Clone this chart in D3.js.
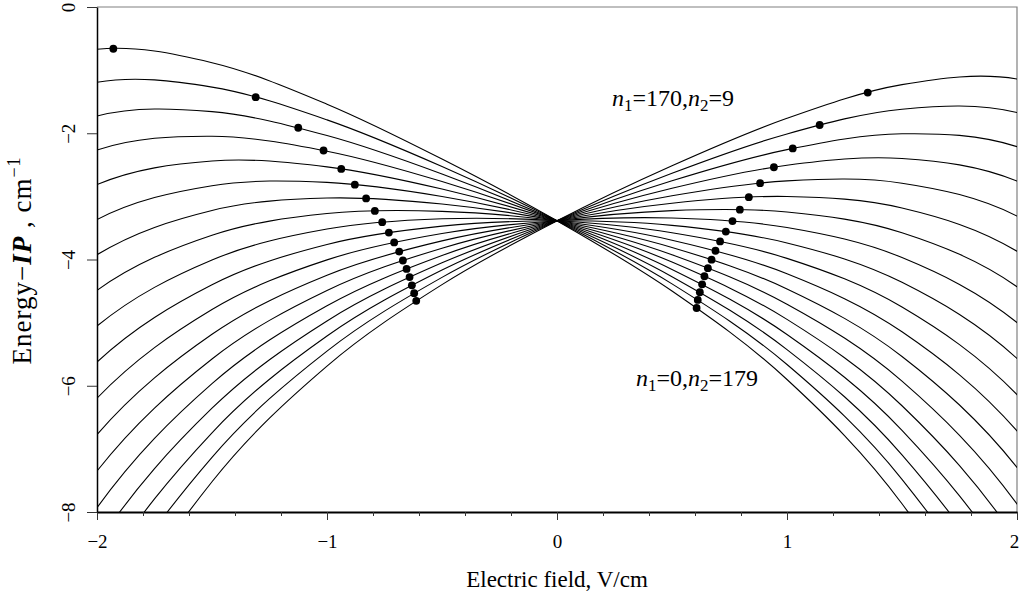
<!DOCTYPE html>
<html>
<head>
<meta charset="utf-8">
<script src="https://cdn.jsdelivr.net/npm/d3@7"></script>
<style>
html,body{margin:0;padding:0;background:#fff;}
svg{display:block;font-family:"Liberation Serif","Times New Roman",serif;}
</style>
</head>
<body>
<svg id="chart" width="1020" height="599"></svg>
<script>
// ---- data ----
const fieldGrid = [-2.5, -2, -1.5, -1, -0.5, 0, 0.5, 1, 1.5, 2, 2.5];
const n1Values = [0, 10, 20, 30, 40, 50, 60, 70, 80, 90, 100, 110, 120, 130, 140, 150, 160, 170];
const levelEnergies = [
  [-1.259, -0.669, -0.882, -1.539, -2.408, -3.387, -4.500, -5.901, -7.869, -10.813, -15.269],
  [-1.902, -1.193, -1.269, -1.788, -2.527, -3.387, -4.386, -5.664, -7.482, -10.219, -14.377],
  [-2.569, -1.726, -1.658, -2.036, -2.646, -3.387, -4.272, -5.427, -7.094, -9.629, -13.500],
  [-3.260, -2.266, -2.048, -2.284, -2.765, -3.387, -4.157, -5.188, -6.706, -9.041, -12.635],
  [-3.970, -2.813, -2.439, -2.532, -2.884, -3.387, -4.041, -4.949, -6.317, -8.456, -11.782],
  [-4.699, -3.367, -2.831, -2.779, -3.002, -3.387, -3.926, -4.708, -5.927, -7.873, -10.941],
  [-5.444, -3.925, -3.223, -3.026, -3.120, -3.387, -3.810, -4.467, -5.536, -7.293, -10.111],
  [-6.204, -4.488, -3.616, -3.272, -3.237, -3.387, -3.694, -4.225, -5.145, -6.715, -9.291],
  [-6.978, -5.054, -4.008, -3.518, -3.355, -3.387, -3.577, -3.982, -4.754, -6.140, -8.483],
  [-7.765, -5.624, -4.401, -3.762, -3.472, -3.387, -3.460, -3.738, -4.362, -5.567, -7.685],
  [-8.563, -6.197, -4.793, -4.006, -3.589, -3.387, -3.343, -3.493, -3.969, -4.998, -6.900],
  [-9.373, -6.773, -5.185, -4.249, -3.705, -3.387, -3.226, -3.248, -3.576, -4.431, -6.128],
  [-10.193, -7.351, -5.576, -4.491, -3.821, -3.387, -3.108, -3.002, -3.184, -3.869, -5.369],
  [-11.025, -7.932, -5.966, -4.733, -3.937, -3.387, -2.990, -2.755, -2.791, -3.311, -4.625],
  [-11.867, -8.514, -6.356, -4.973, -4.053, -3.387, -2.872, -2.507, -2.400, -2.758, -3.898],
  [-12.721, -9.100, -6.745, -5.212, -4.168, -3.387, -2.753, -2.260, -2.009, -2.212, -3.190],
  [-13.587, -9.688, -7.133, -5.451, -4.283, -3.387, -2.634, -2.011, -1.619, -1.672, -2.502],
  [-14.466, -10.278, -7.521, -5.688, -4.398, -3.387, -2.515, -1.763, -1.230, -1.140, -1.836]
];
const leftDotField  = [-1.929, -1.310, -1.125, -1.015, -0.938, -0.879, -0.830, -0.792, -0.760, -0.731, -0.708, -0.686, -0.670, -0.654, -0.641, -0.631, -0.621, -0.612];
const leftDotEnergy = [-0.661, -1.429, -1.913, -2.273, -2.565, -2.814, -3.033, -3.230, -3.409, -3.574, -3.729, -3.874, -4.016, -4.149, -4.279, -4.409, -4.533, -4.655];
const rightDotField  = [0.607, 0.612, 0.621, 0.631, 0.641, 0.656, 0.672, 0.689, 0.709, 0.734, 0.763, 0.795, 0.834, 0.883, 0.943, 1.025, 1.142, 1.351];
const rightDotEnergy = [-4.768, -4.641, -4.519, -4.394, -4.265, -4.137, -4.002, -3.861, -3.713, -3.558, -3.392, -3.211, -3.013, -2.791, -2.539, -2.240, -1.869, -1.355];
const xTickValues = [-2, -1, 0, 1, 2];
const xMinorTickValues = [-1.8, -1.6, -1.4, -1.2, -0.8, -0.6, -0.4, -0.2, 0.2, 0.4, 0.6, 0.8, 1.2, 1.4, 1.6, 1.8];
const yTickValues = [0, -2, -4, -6, -8];

// ---- layout ----
const plot = {left: 97, right: 1017, top: 7, bottom: 512};
const x = d3.scaleLinear().domain([-2, 2]).range([plot.left, plot.right]);
const y = d3.scaleLinear().domain([-8, 0]).range([plot.bottom, plot.top]);
const svg = d3.select("#chart");

svg.append("defs").append("clipPath").attr("id", "clip")
  .append("rect")
  .attr("x", plot.left).attr("y", plot.top)
  .attr("width", plot.right - plot.left).attr("height", plot.bottom - plot.top);

// frame (top & right)
svg.append("path")
  .attr("d", `M${plot.left},${plot.top}H${plot.right}V${plot.bottom}`)
  .attr("fill", "none").attr("stroke", "#808080").attr("stroke-width", 1.2);

// curves
const line = d3.line()
  .x((d, i) => x(fieldGrid[i]))
  .y(d => y(d))
  .curve(d3.curveCardinal.tension(0));

const gPlot = svg.append("g").attr("clip-path", "url(#clip)");
gPlot.selectAll("path.level")
  .data(levelEnergies)
  .join("path")
  .attr("class", "level")
  .attr("d", line)
  .attr("fill", "none")
  .attr("stroke", "#000")
  .attr("stroke-width", 1.1);

// dots
const dots = leftDotField.map((f, i) => ({f, e: leftDotEnergy[i]}))
  .concat(rightDotField.map((f, i) => ({f, e: rightDotEnergy[i]})));
gPlot.selectAll("circle.dot")
  .data(dots)
  .join("circle")
  .attr("class", "dot")
  .attr("cx", d => x(d.f))
  .attr("cy", d => y(d.e))
  .attr("r", 3.9)
  .attr("fill", "#000");

// x axis
const fmt = d => (d < 0 ? "\u2212" + (-d) : String(d));
const gx = svg.append("g").attr("transform", `translate(0,${plot.bottom})`)
  .call(d3.axisBottom(x).tickValues(xTickValues).tickSize(8).tickSizeOuter(0).tickFormat(fmt));
gx.select(".domain").attr("stroke", "#000").attr("stroke-width", 2.2);
gx.selectAll(".tick line").attr("stroke", "#333").attr("stroke-width", 1);
gx.selectAll(".tick text")
  .attr("y", 35.5).attr("dy", 0)
  .attr("x", d => (d === 2 ? -3 : 0))
  .attr("font-size", 19).attr("font-family", "Liberation Serif").attr("fill", "#000");

const gxm = svg.append("g").attr("transform", `translate(0,${plot.bottom})`)
  .call(d3.axisBottom(x).tickValues(xMinorTickValues).tickSize(4).tickSizeOuter(0).tickFormat(""));
gxm.select(".domain").remove();
gxm.selectAll(".tick line").attr("stroke", "#333").attr("stroke-width", 1);

// y axis
const gy = svg.append("g").attr("transform", `translate(${plot.left},0)`)
  .call(d3.axisLeft(y).tickValues(yTickValues).tickSize(10).tickSizeOuter(0).tickFormat(fmt));
gy.select(".domain").attr("stroke", "#000").attr("stroke-width", 1.5);
gy.selectAll(".tick line").attr("stroke", "#333").attr("stroke-width", 1);
gy.selectAll(".tick text")
  .attr("x", 0).attr("dy", 0)
  .attr("text-anchor", "middle")
  .attr("transform", "translate(-22,0) rotate(-90)")
  .attr("font-size", 19).attr("font-family", "Liberation Serif").attr("fill", "#000");

// axis titles
svg.append("text")
  .attr("x", (plot.left + plot.right) / 2).attr("y", 587)
  .attr("text-anchor", "middle").attr("font-size", 23)
  .text("Electric field, V/cm");

const yt = svg.append("text")
  .attr("transform", `translate(31,${(plot.top + plot.bottom) / 2 + 1}) rotate(-90)`)
  .attr("text-anchor", "middle").attr("font-size", 27)
  .attr("letter-spacing", 1);
yt.append("tspan").text("Energy\u2212");
yt.append("tspan").attr("font-weight", "bold").attr("font-style", "italic").text("IP");
yt.append("tspan").text(" , cm");
yt.append("tspan").attr("font-size", 18).attr("dy", -11).text("\u22121");

// state labels
function stateLabel(px, py, a, b) {
  const t = svg.append("text").attr("x", px).attr("y", py).attr("font-size", 24);
  t.append("tspan").attr("font-style", "italic").text("n");
  t.append("tspan").attr("font-size", 17).attr("dy", 5).text("1");
  t.append("tspan").attr("dy", -5).text("=" + a + ",");
  t.append("tspan").attr("font-style", "italic").text("n");
  t.append("tspan").attr("font-size", 17).attr("dy", 5).text("2");
  t.append("tspan").attr("dy", -5).text("=" + b);
}
stateLabel(612, 106, n1Values[17], 9);
stateLabel(636, 386, n1Values[0], 179);
</script>
</body>
</html>
